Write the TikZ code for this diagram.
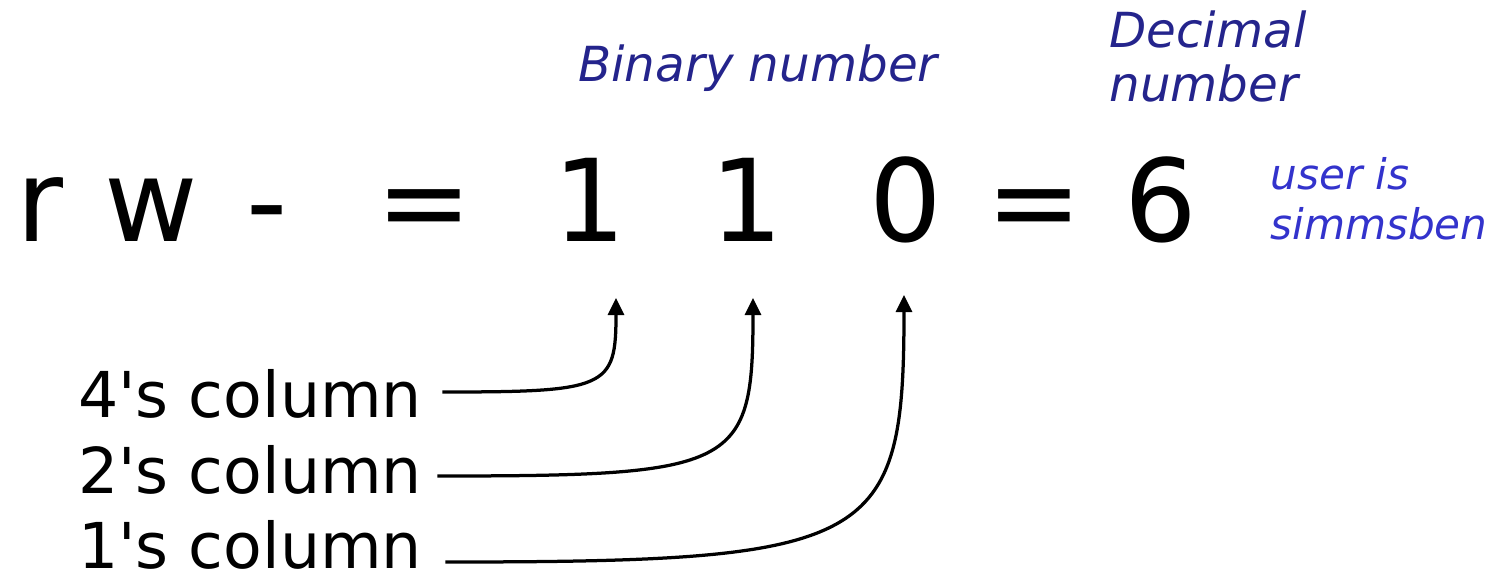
\documentclass[tikz,border=0pt]{standalone}
\usepackage{fontspec}
\newfontfamily\vfont{DejaVu Sans}
\usepackage{tikz}
\usetikzlibrary{calc,arrows.meta}
\definecolor{headblue}{RGB}{36,36,140}
\definecolor{userblue}{RGB}{51,51,204}
\tikzset{
  glyph/.style={anchor=base, inner sep=0pt, font=\vfont\fontsize{65}{78}\selectfont},
  colname/.style={anchor=base west, inner sep=0pt, font=\vfont\fontsize{36}{43}\selectfont},
  head/.style={anchor=north west, inner sep=0pt, align=left, text=headblue,
    font=\vfont\itshape\fontsize{27.5}{31}\selectfont},
  usernote/.style={anchor=north west, inner sep=0pt, align=left, text=userblue,
    font=\vfont\itshape\fontsize{24}{28.5}\selectfont},
  arr/.style={-{Triangle[length=0.34cm,width=0.32cm]}, line width=0.065cm}
}
\begin{document}
\begin{tikzpicture}
  \useasboundingbox (0,0) rectangle (30.14,-11.46);
  \def\yBase{-4.82}

  % permission string and its values
  \node[glyph] (r) at (0.8,\yBase) {r};
  \node[glyph] (w) at (3.02,\yBase) {w};
  \node[glyph] (x) at (5.34,\yBase) {-};
  \node[glyph] (eqa) at (8.48,\yBase) {=};
  \node[glyph] (bitfour) at (11.8,\yBase) {1};
  \node[glyph] (bittwo) at (14.94,\yBase) {1};
  \node[glyph] (bitone) at (18.12,\yBase) {0};
  \node[glyph] (eqb) at (20.68,\yBase) {=};
  \node[glyph] (six) at (23.22,\yBase) {6};

  \node[head] (binary) at (11.56,-0.88) {Binary number};
  \node[head] (decimal) at (22.18,-0.2) {Decimal\\number};
  \node[usernote] (user) at (25.4,-3.14) {user is\\simmsben};

  \node[colname] (colfour) at (1.56,-8.34) {4's column};
  \node[colname] (coltwo) at (1.56,-9.86) {2's column};
  \node[colname] (colone) at (1.56,-11.36) {1's column};

  \coordinate (tipfour) at (12.32,-5.96);
  \coordinate (tiptwo) at (15.06,-5.96);
  \coordinate (tipone) at (18.08,-5.9);

  \draw[arr] ([shift={(0.4,0.5)}]colfour.base east) .. controls +(3.3,0) and +(0,-1.8) .. (tipfour);
  \draw[arr] ([shift={(0.3,0.34)}]coltwo.base east) .. controls +(6,0) and +(0,-3.4) .. (tiptwo);
  \draw[arr] ([shift={(0.46,0.12)}]colone.base east) .. controls +(8.6,0) and +(0,-5.0) .. (tipone);
\end{tikzpicture}
\end{document}
